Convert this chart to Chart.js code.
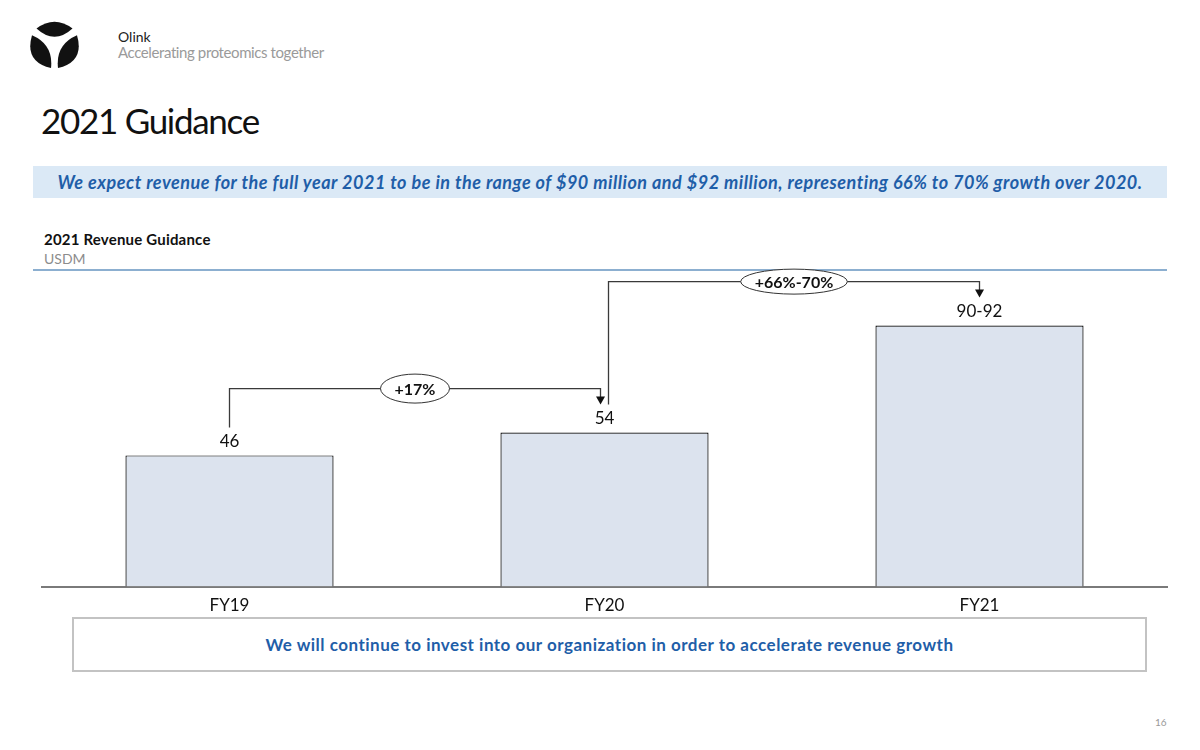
<!DOCTYPE html>
<html>
<head>
<meta charset="utf-8">
<script src="https://cdn.jsdelivr.net/npm/chart.js@4/dist/chart.umd.min.js"></script>
<style>
  html, body { margin:0; padding:0; background:#fff; }
  body { width:1200px; height:750px; position:relative; overflow:hidden; font-family: Lato, "Open Sans", sans-serif; }
  .abs { position:absolute; }
  #logo { left:26px; top:18px; }
  #brand { left:118px; top:28px; font-size:14px; color:#222; line-height:17px; }
  #tagline { left:118px; top:43px; font-size:15px; color:#9a9a9a; line-height:18px; letter-spacing:-0.4px; }
  #title { left:41px; top:99px; font-size:35px; color:#111; letter-spacing:-1.3px; line-height:42px; }
  #banner { left:33px; top:166px; width:1134px; height:32px; background:#dbe9f6; color:#1f5ea8; font-weight:bold; font-style:italic; font-size:18px; letter-spacing:0.5px; line-height:32px; text-align:center; }
  #subtitle { left:44px; top:231px; font-size:15px; font-weight:bold; color:#111; line-height:17px; letter-spacing:0.2px; }
  #unit { left:44px; top:250px; font-size:14px; color:#8c8c8c; line-height:17px; }
  #rule { left:33px; top:269px; width:1134px; height:2px; background:#8cafd0; }
  #note { left:72px; top:617px; width:1071px; height:51px; border:2px solid #c3c3c3; color:#1f5ea8; font-weight:bold; font-size:17px; letter-spacing:0.5px; line-height:51px; text-align:center; }
  #page { left:1155px; top:716px; font-size:10px; color:#999; }
  #c { position:absolute; left:0; top:0; }
</style>
</head>
<body>
<svg id="logo" class="abs" width="56" height="52" viewBox="0 0 56 52">
  <path d="M10.5 10.5 Q28.5 -3 46.5 10.5 Q28.5 27 10.5 10.5 Z" fill="#111"/>
  <path d="M6 17.3 Q-1.8 43.7 25 50 Q27.6 26.6 6 17.3 Z" fill="#111"/>
  <path d="M51 17.3 Q58.8 43.7 32 50 Q29.4 26.6 51 17.3 Z" fill="#111"/>
</svg>
<div id="brand" class="abs">Olink</div>
<div id="tagline" class="abs">Accelerating proteomics together</div>
<div id="title" class="abs">2021 Guidance</div>
<div id="banner" class="abs">We expect revenue for the full year 2021 to be in the range of $90 million and $92 million, representing 66% to 70% growth over 2020.</div>
<div id="subtitle" class="abs">2021 Revenue Guidance</div>
<div id="unit" class="abs">USDM</div>
<div id="rule" class="abs"></div>
<div id="note" class="abs">We will continue to invest into our organization in order to accelerate revenue growth</div>
<div id="page" class="abs">16</div>
<canvas id="c" width="1200" height="750"></canvas>
<script>
const categories = ['FY19', 'FY20', 'FY21'];
const revenue = [46, 54, 91.5];
const valueLabels = ['46', '54', '90-92'];
const growthLabels = ['+17%', '+66%-70%'];

const annotate = {
  id: 'annotate',
  afterDatasetsDraw(chart) {
    const ctx = chart.ctx;
    const meta = chart.getDatasetMeta(0);
    const yScale = chart.scales.y;
    ctx.save();
    ctx.font = '17px Lato, "Open Sans", sans-serif';
    ctx.fillStyle = '#111';
    ctx.textAlign = 'center';
    ctx.textBaseline = 'middle';
    meta.data.forEach((bar, i) => {
      ctx.fillText(valueLabels[i], bar.x, yScale.getPixelForValue(revenue[i]) - 14);
    });
    growthLabels.forEach((lab, i) => {
      const a = meta.data[i], b = meta.data[i + 1];
      const topA = yScale.getPixelForValue(revenue[i]);
      const topB = yScale.getPixelForValue(revenue[i + 1]);
      const x1 = a.x + (i === 0 ? 0 : 4);
      const x2 = b.x + (i + 1 === 1 ? -4 : 0);
      const yb = topB - 44;
      const yStart = topA - 28;
      const yTip = topB - 28;
      ctx.strokeStyle = '#3a3a3a';
      ctx.lineWidth = 1.3;
      ctx.beginPath();
      ctx.moveTo(x1, yStart);
      ctx.lineTo(x1, yb);
      ctx.lineTo(x2, yb);
      ctx.lineTo(x2, yTip - 6);
      ctx.stroke();
      ctx.fillStyle = '#111';
      ctx.beginPath();
      ctx.moveTo(x2 - 4.5, yTip - 8);
      ctx.lineTo(x2 + 4.5, yTip - 8);
      ctx.lineTo(x2, yTip);
      ctx.closePath();
      ctx.fill();
      ctx.font = 'bold 16px Lato, "Open Sans", sans-serif';
      const w = ctx.measureText(lab).width;
      const cx = (x1 + x2) / 2;
      const rx = w / 2 + 14;
      const ry = i === 0 ? 14.5 : 12.5;
      ctx.beginPath();
      ctx.ellipse(cx, yb, rx, ry, 0, 0, Math.PI * 2);
      ctx.fillStyle = '#fff';
      ctx.fill();
      ctx.strokeStyle = '#333';
      ctx.lineWidth = 1;
      ctx.stroke();
      ctx.fillStyle = '#111';
      ctx.fillText(lab, cx, yb + 1);
    });
    ctx.restore();
  }
};

new Chart(document.getElementById('c'), {
  type: 'bar',
  data: {
    labels: categories,
    datasets: [{
      data: revenue,
      backgroundColor: '#dce3ee',
      borderColor: '#000',
      borderWidth: 1.2,
      categoryPercentage: 1,
      barPercentage: 0.555
    }]
  },
  options: {
    responsive: false,
    animation: false,
    devicePixelRatio: 1,
    layout: { padding: { left: 42, right: 33, top: 270, bottom: 125 } },
    plugins: { legend: { display: false }, tooltip: { enabled: false } },
    scales: {
      x: {
        grid: { display: false, drawTicks: false },
        border: { display: true, color: '#7a7a7a', width: 2 },
        ticks: { color: '#111', padding: 9, font: { family: 'Lato, "Open Sans", sans-serif', size: 17 } }
      },
      y: { display: false, min: 0, max: 111 }
    }
  },
  plugins: [annotate]
});
</script>
</body>
</html>
